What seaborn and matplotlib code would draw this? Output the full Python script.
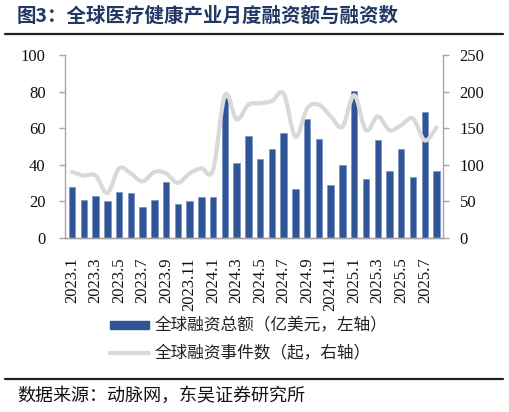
import numpy as np
import pandas as pd
import matplotlib
matplotlib.use("Agg")
import matplotlib.pyplot as plt
import seaborn as sns
from matplotlib.path import Path
from matplotlib.patches import PathPatch, Patch
from matplotlib.lines import Line2D

# ---------------- data ----------------
months = [f"{y}.{m}" for y in (2023, 2024) for m in range(1, 13)] + [f"2025.{m}" for m in range(1, 9)]
amount = [28, 20.5, 22.8, 20.3, 24.8, 24.5, 16.6, 20.6, 30.3, 18.4, 19.9, 22.3,
          22.3, 76.3, 40.7, 55.7, 43.3, 48.5, 57.1, 26.6, 65, 54, 28.7, 39.6,
          80.3, 32, 53.5, 36.3, 48.5, 33, 68.8, 36.5]
events = [90, 85, 85, 61, 95, 88, 77, 90, 88, 75, 88, 95,
          93, 195, 162, 182, 184, 187, 197, 138, 177, 182, 166, 152,
          195, 147, 166, 147, 154, 163, 133, 151]
left_ticks = [0, 20, 40, 60, 80, 100]
right_ticks = [0, 50, 100, 150, 200, 250]
bar_label = "全球融资总额（亿美元，左轴）"
line_label = "全球融资事件数（起，右轴）"
title = "图3：全球医疗健康产业月度融资额与融资数"
source = "数据来源：动脉网，东吴证券研究所"

BAR_C = "#2F5597"
LINE_C = "#D9D9D9"
SPINE_C = "#A6A6A6"
TITLE_C = "#1F3864"
CJK = ["Noto Sans CJK SC", "DejaVu Sans"]
SERIF = "Liberation Serif"

sns.set_theme(style="white")
plt.rcParams["font.family"] = CJK

df = pd.DataFrame({"month": months, "amount": amount, "events": events})

fig = plt.figure(figsize=(5.09, 4.12), dpi=100)
W, H = 509, 412
ax = fig.add_axes([65 / W, 1 - 237.7 / H, (443 - 65) / W, (237.7 - 55) / H])

sns.barplot(data=df, x="month", y="amount", color=BAR_C, width=0.55,
            saturation=1, ax=ax, edgecolor="#6F8CC4", linewidth=0.4, zorder=2)
ax.set_xlim(-0.6, len(months) - 0.45)
ax.set_ylim(0, 100)
ax.set_yticks(left_ticks)
ax.set_xlabel("")
ax.set_ylabel("")

ax2 = ax.twinx()
ax2.set_ylim(0, 250)
ax2.set_yticks(right_ticks)

# smooth line (Catmull-Rom -> cubic Bezier), in data coordinates
xs = np.arange(len(events), dtype=float)
ys = np.asarray(events, dtype=float)
P = np.column_stack([xs, ys])
verts = [tuple(P[0])]
codes = [Path.MOVETO]
n = len(P)
for i in range(n - 1):
    p0 = P[i - 1] if i > 0 else P[i]
    p1 = P[i]
    p2 = P[i + 1]
    p3 = P[i + 2] if i + 2 < n else P[i + 1]
    c1 = p1 + (p2 - p0) / 6.0
    c2 = p2 - (p3 - p1) / 6.0
    verts += [tuple(c1), tuple(c2), tuple(p2)]
    codes += [Path.CURVE4] * 3
ax2.add_patch(PathPatch(Path(verts, codes), fill=False, edgecolor=LINE_C,
                        linewidth=3.0, capstyle="round", joinstyle="round",
                        transform=ax2.transData, zorder=3))
ax2.set_xlim(ax.get_xlim())

# spines / ticks
for a in (ax, ax2):
    a.spines["top"].set_visible(False)
    for s in ("left", "right", "bottom"):
        a.spines[s].set_color(SPINE_C)
        a.spines[s].set_linewidth(1.0)
    a.grid(False)
ax.spines["right"].set_visible(False)
ax2.spines["left"].set_visible(False)

ax.tick_params(axis="y", which="both", left=True, length=4, width=1, color=SPINE_C,
               direction="out", pad=10, labelsize=12)
ax2.tick_params(axis="y", right=True, length=4, width=1, color=SPINE_C,
                direction="out", pad=8, labelsize=12)
ax.tick_params(axis="x", bottom=False, pad=8, labelsize=12)

ax.set_xticks(range(0, len(months), 2))
ax.set_xticklabels(months[::2], rotation=90, fontfamily=SERIF)
for lab in ax.get_yticklabels():
    lab.set_fontfamily(SERIF)
for lab in ax2.get_yticklabels():
    lab.set_fontfamily(SERIF)
for lab in ax.get_xticklabels() + ax.get_yticklabels() + ax2.get_yticklabels():
    lab.set_color("#111111")

# legend
handles = [Patch(facecolor=BAR_C, edgecolor=BAR_C),
           Line2D([0], [0], color=LINE_C, linewidth=3.0)]
leg = fig.legend(handles, [bar_label, line_label], loc="center left",
                 bbox_to_anchor=(103 / W, 1 - 340 / H), frameon=False,
                 borderaxespad=0, fontsize=12, handlelength=2.33,
                 handleheight=0.35, handletextpad=0.36, labelspacing=0.65)
for t in leg.get_texts():
    t.set_color("#222222")

# title, rules, source
fig.text(17 / W, 1 - 16 / H, title, fontsize=14, fontweight="bold",
         color=TITLE_C, va="center", ha="left")
fig.add_artist(Line2D([5 / W, 503 / W], [1 - 34 / H, 1 - 34 / H],
                      transform=fig.transFigure, color="#222222", linewidth=1.6))
fig.add_artist(Line2D([5 / W, 503 / W], [1 - 379 / H, 1 - 379 / H],
                      transform=fig.transFigure, color="#222222", linewidth=1.6))
fig.text(17 / W, 1 - 396 / H, source, fontsize=13, color="#111111",
         va="center", ha="left")

fig.savefig("out.png", dpi=100)
